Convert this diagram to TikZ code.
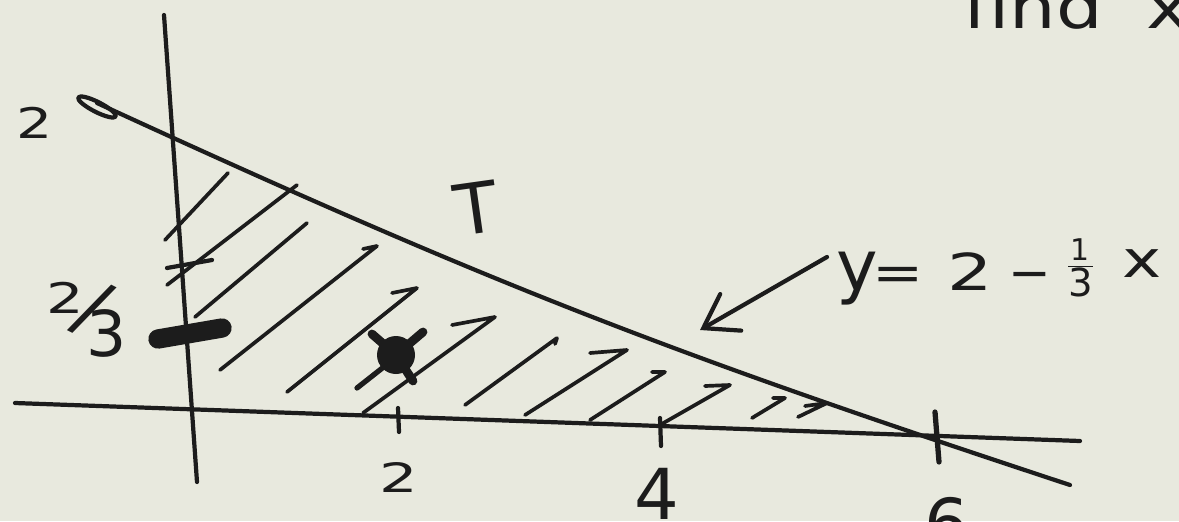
\documentclass[tikz,border=0pt]{standalone}
\usepackage{fontspec}
\setmainfont{DejaVu Sans}
\usetikzlibrary{arrows.meta}
\definecolor{paper}{RGB}{232,233,222}
\definecolor{ink}{RGB}{28,28,28}
\tikzset{
  axisline/.style={draw=ink, line width=2.4pt, line cap=round, line join=round},
  hatchline/.style={draw=ink, line width=2.1pt, line cap=round, line join=round},
  tickmark/.style={draw=ink, line width=2.4pt, line cap=round},
  lbl/.style={text=ink, inner sep=0pt},
}
\begin{document}
\begin{tikzpicture}[x=0.02cm,y=-0.02cm]
\useasboundingbox (0,0) rectangle (1179,521);
\clip (0,0) rectangle (1179,521);
\fill[paper] (0,0) rectangle (1179,521);

% axes
\coordinate (ytop) at (164,15);
\coordinate (ybot) at (197,482);
\coordinate (xleft) at (15,403);
\coordinate (xright) at (1080,441);
\draw[axisline] (ytop) -- (ybot);
\draw[axisline] (xleft) -- (xright);

% hypotenuse y = 2 - x/3 with start loop
\coordinate (hstart) at (97,103);
\coordinate (hend) at (1070,485);
\draw[axisline] (hstart) .. controls (497,287) and (670,353) .. (hend);
\draw[axisline] (97,107) ellipse [x radius=21, y radius=5, rotate=-27];

% ticks
\draw[tickmark] (398,408) -- (399,432);
\draw[tickmark] (660,418) -- (661,446);
\draw[tickmark, line width=3pt] (935,412) -- (939,462);
\draw[tickmark] (167,268) -- (212,260);
\draw[ink, line width=11pt, line cap=round] (158,339) -- (222,328);

% hatching
\draw[hatchline] (165,240) -- (228,173);
\draw[hatchline] (167,285) -- (297,185);
\draw[hatchline] (195,317) -- (307,223);
\draw[hatchline] (220,370) -- (377,246) -- (363,249);
\draw[hatchline] (287,392) -- (417,288) -- (392,293);
\draw[hatchline] (363,413) -- (495,317) -- (452,325);
\draw[hatchline] (465,405) -- (557,338) -- (555,344);
\draw[hatchline] (525,415) -- (627,350) -- (590,353);
\draw[hatchline] (590,420) -- (665,372) -- (652,372);
\draw[hatchline] (660,425) -- (730,385) -- (705,386);
\draw[hatchline] (752,418) -- (785,398) -- (773,398);
\draw[hatchline] (798,417) -- (827,403) -- (805,406);

% blob (the point)
\fill[ink] (396,355) circle [radius=19];
\draw[ink, line width=5pt, line cap=round] (396,355) -- (372,334);
\draw[ink, line width=5pt, line cap=round] (396,355) -- (423,332);
\draw[ink, line width=5pt, line cap=round] (396,355) -- (413,381);
\draw[ink, line width=3pt, line cap=round] (390,362) -- (357,388);

% arrow to the line
\coordinate (atail) at (827,257);
\coordinate (atip) at (700,330);
\draw[axisline, -{Straight Barb[length=18pt 0, width=24pt 0, line cap=round]}] (atail) -- (atip);

% labels
\node[lbl, font=\fontsize{24}{24}\selectfont] (ytwo) at (35,123) {\scalebox{1.35}[1]{2}};
\node[lbl, anchor=base west] (ytwothirds) at (65,313)
  {\makebox[0pt]{\fontsize{24}{24}\selectfont\scalebox{1.4}[1]{2}}\hspace{0.54cm}\makebox[0pt]{\raisebox{-11pt}{\fontsize{42}{42}\selectfont\rotatebox[origin=c]{-27}{/}}}\hspace{0.28cm}\makebox[0pt]{\raisebox{-25pt}{\fontsize{36}{36}\selectfont 3}}};
\node[lbl, font=\fontsize{23}{23}\selectfont] (xtwo) at (399,477) {\scalebox{1.5}[1]{2}};
\node[lbl, font=\fontsize{40}{40}\selectfont] (xfour) at (657,494) {4};
\node[lbl, font=\fontsize{40}{40}\selectfont] (xsix) at (947,524) {6};
\node[lbl, font=\fontsize{40}{40}\selectfont, rotate=8] (tlab) at (476,208) {T};
\node[lbl, anchor=base west, font=\fontsize{34}{34}\selectfont] (find) at (963,28)
  {\scalebox{1.23}[1]{find\hspace{0.6em}x}};
\node[lbl, anchor=base west, font=\fontsize{29}{29}\selectfont] (eq) at (857,290)
  {\makebox[0pt]{\fontsize{40}{40}\selectfont y}\hspace{0.82cm}\makebox[0pt]{\scalebox{1.2}[1]{=}}\hspace{1.44cm}\makebox[0pt]{\scalebox{1.4}[1]{2}}\hspace{1.2cm}\makebox[0pt]{−}\hspace{1.0cm}\makebox[0pt]{\raisebox{7pt}{$\frac{\mbox{\fontsize{17}{17}\selectfont 1}}{\mbox{\fontsize{22}{22}\selectfont 3}}$}}\hspace{1.24cm}\makebox[0pt]{\raisebox{7pt}{\scalebox{1.3}[1]{x}}}};
\end{tikzpicture}
\end{document}
